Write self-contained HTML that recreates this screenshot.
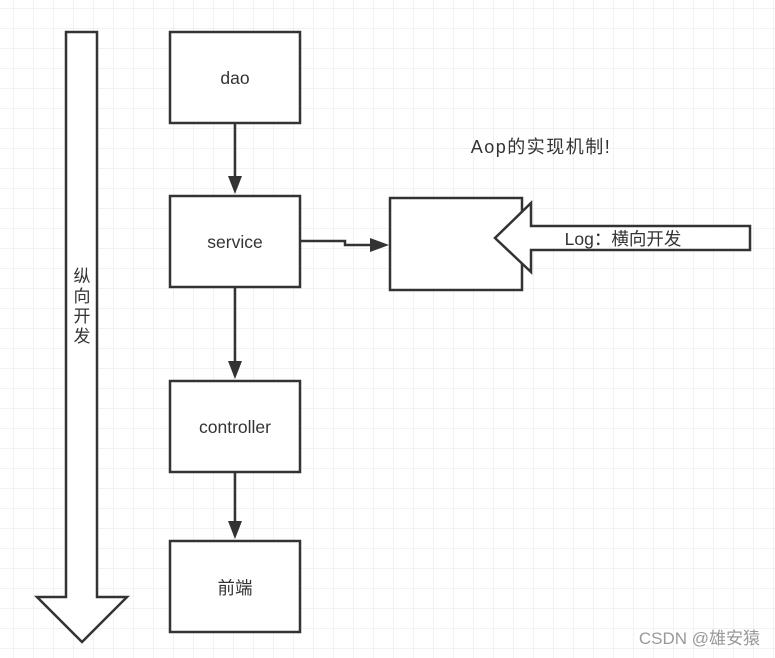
<!DOCTYPE html>
<html><head><meta charset="utf-8"><style>
body{margin:0;background:#fff}
svg{display:block}
text{font-family:"Liberation Sans","Noto Sans CJK SC",sans-serif;fill:#333}
</style></head><body>
<svg width="775" height="658" viewBox="0 0 775 658" xmlns="http://www.w3.org/2000/svg">
<defs>
<pattern id="g" x="13" y="8" width="20" height="20" patternUnits="userSpaceOnUse">
<path d="M0 0H20M0 0V20" stroke="#e6e6e6" stroke-width="1" fill="none"/>
</pattern>
</defs>
<rect width="775" height="658" fill="url(#g)"/>
<g stroke="#333" stroke-width="2.5" fill="#fff">
<polygon points="66,32 97,32 97,597 127,597 82,642 37,597 66,597"/>
<rect x="170" y="32" width="130" height="91"/>
<rect x="170" y="196" width="130" height="91"/>
<rect x="170" y="381" width="130" height="91"/>
<rect x="170" y="541" width="130" height="91"/>
<rect x="390" y="198" width="132" height="92"/>
<polygon points="750,226 750,250 531,250 531,272 495,238 531,203 531,226"/>
</g>
<g stroke="#333" stroke-width="2.5" fill="none">
<path d="M235 123V178M235 287V363M235 472V523M300 241H345V245H372"/>
</g>
<g fill="#333">
<polygon points="228,176 242,176 235,194"/>
<polygon points="228,361 242,361 235,379"/>
<polygon points="228,521 242,521 235,539"/>
<polygon points="370,238 370,252 389,245"/>
</g>
<text x="235" y="84" font-size="17.5" text-anchor="middle">dao</text>
<text x="235" y="248" font-size="17.5" text-anchor="middle">service</text>
<text x="235" y="433" font-size="17.5" text-anchor="middle">controller</text>
<text x="235" y="594" font-size="17.5" text-anchor="middle">前端</text>
<text x="623" y="245" font-size="17.5" text-anchor="middle">Log：横向开发</text>
<text x="541" y="153" font-size="18" letter-spacing="1.5" text-anchor="middle">Aop的实现机制!</text>
<text x="82" y="282" font-size="17" text-anchor="middle">纵</text>
<text x="82" y="302" font-size="17" text-anchor="middle">向</text>
<text x="82" y="322" font-size="17" text-anchor="middle">开</text>
<text x="82" y="342" font-size="17" text-anchor="middle">发</text>
<text x="760" y="644" font-size="17" text-anchor="end" style="fill:#999">CSDN @雄安猿</text>
</svg>
</body></html>
